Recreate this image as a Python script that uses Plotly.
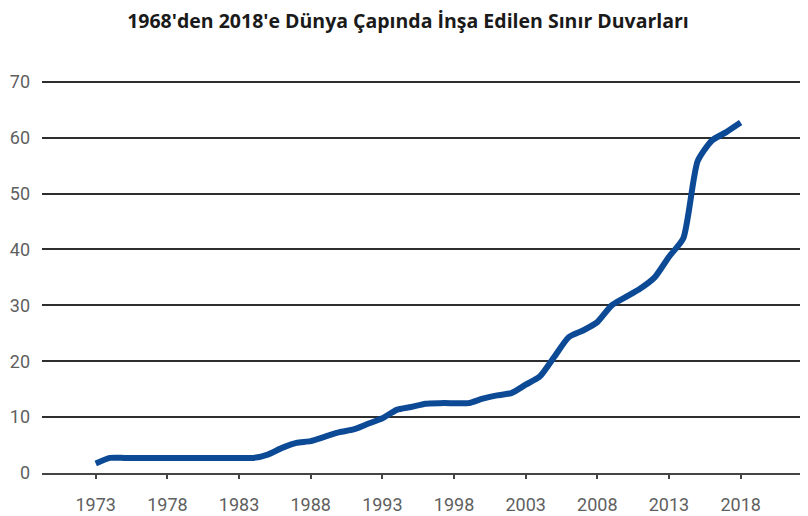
import plotly.graph_objects as go

# --- Data ---
years = list(range(1973, 2019))
walls = [
    1.7, 2.7, 2.7, 2.7, 2.7, 2.7, 2.7, 2.7, 2.7, 2.7,   # 1973-1982
    2.7, 2.7, 3.3, 4.5, 5.4, 5.7, 6.5, 7.3, 7.8, 8.8,   # 1983-1992
    9.8, 11.3, 11.8, 12.4, 12.5, 12.5, 12.5, 13.3, 13.9, 14.3,  # 1993-2002
    15.8, 17.3, 20.8, 24.3, 25.5, 27.0, 30.0, 31.5, 33.0, 35.0,  # 2003-2012
    38.7, 42.0, 55.8, 59.5, 61.0, 62.7,                  # 2013-2018
]
x_ticks = [1973, 1978, 1983, 1988, 1993, 1998, 2003, 2008, 2013, 2018]
y_ticks = [0, 10, 20, 30, 40, 50, 60, 70]

title = "1968'den 2018'e Dünya Çapında İnşa Edilen Sınır Duvarları"

fig = go.Figure(go.Scatter(
    x=years, y=walls, mode='lines',
    line=dict(color='#0d4a96', width=6, shape='spline', smoothing=0.6),
    hoverinfo='x+y'
))

# page body has an 8px margin, so the figure is 800x508
fig.update_layout(
    width=800, height=508,
    margin=dict(l=34, r=0, t=71, b=43),
    paper_bgcolor='white', plot_bgcolor='white',
    showlegend=False,
    title=dict(text=title, x=0.5, xanchor='center', y=0.975, yanchor='middle',
               font=dict(family='Open Sans', size=19.5, color='#1a1a1a', weight='bold')),
    font=dict(family='Roboto', size=18, color='#5f5f5f'),
)

fig.update_xaxes(
    range=[1969.25, 2022.7], tickvals=x_ticks, showgrid=False, automargin=False,
    showline=True, linecolor='#444444', linewidth=2,
    ticks='outside', ticklen=4, tickwidth=1.5, tickcolor='#444444',
    tickfont=dict(family='Roboto', size=18, color='#5f5f5f'),
    ticklabelstandoff=10, zeroline=False,
)
fig.update_yaxes(
    range=[0, 70.5], tickvals=y_ticks, showgrid=True, automargin=False,
    gridcolor='#2e2e2e', gridwidth=1.5, zeroline=False, showline=False,
    tickfont=dict(family='Roboto', size=18, color='#5f5f5f'),
    ticklabelstandoff=11,
)

fig.write_html("out.html")
